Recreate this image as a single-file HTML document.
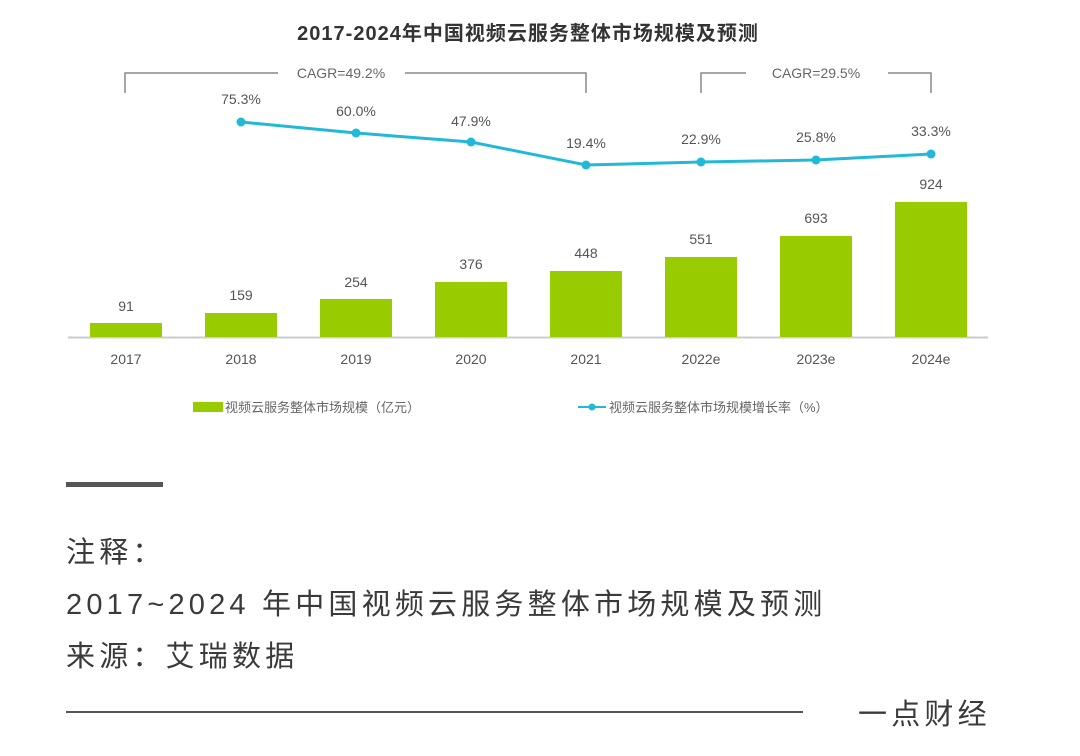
<!DOCTYPE html>
<html><head><meta charset="utf-8"><style>
html,body{margin:0;padding:0;background:#fff;}
body{width:1080px;height:756px;overflow:hidden;position:relative;font-family:"Liberation Sans","Noto Sans CJK SC",sans-serif;}
.t{position:absolute;color:#3a3a3a;font-size:29px;letter-spacing:4.2px;white-space:nowrap;}
</style></head><body>
<svg width="1080" height="460" style="position:absolute;left:0;top:0" font-family="Liberation Sans, Noto Sans CJK SC, sans-serif">
<text x="528" y="40" text-anchor="middle" font-size="20" font-weight="bold" fill="#333" letter-spacing="1">2017-2024年中国视频云服务整体市场规模及预测</text>
<g stroke="#888" stroke-width="1.5" fill="none">
<polyline points="125,93 125,73 278,73"/><polyline points="405,73 586,73 586,93"/>
<polyline points="701,93 701,73 746,73"/><polyline points="888,73 931,73 931,93"/>
</g>
<g font-size="14" fill="#666" text-anchor="middle">
<text x="341" y="78">CAGR=49.2%</text><text x="816" y="78">CAGR=29.5%</text>
</g>
<line x1="68" y1="337.5" x2="988" y2="337.5" stroke="#ccc" stroke-width="2"/>
<g fill="#99cc00">
<rect x="90" y="323" width="72" height="14"/>
<rect x="205" y="313" width="72" height="24"/>
<rect x="320" y="299" width="72" height="38"/>
<rect x="435" y="282" width="72" height="55"/>
<rect x="550" y="271" width="72" height="66"/>
<rect x="665" y="257" width="72" height="80"/>
<rect x="780" y="236" width="72" height="101"/>
<rect x="895" y="202" width="72" height="135"/>
</g>
<g font-size="14" fill="#555" text-anchor="middle">
<text x="126" y="311">91</text><text x="241" y="300">159</text><text x="356" y="287">254</text><text x="471" y="269">376</text>
<text x="586" y="258">448</text><text x="701" y="244">551</text><text x="816" y="223">693</text><text x="931" y="189">924</text>
<text x="126" y="364">2017</text><text x="241" y="364">2018</text><text x="356" y="364">2019</text><text x="471" y="364">2020</text>
<text x="586" y="364">2021</text><text x="701" y="364">2022e</text><text x="816" y="364">2023e</text><text x="931" y="364">2024e</text>
<text x="241" y="104">75.3%</text><text x="356" y="116">60.0%</text><text x="471" y="126">47.9%</text><text x="586" y="148">19.4%</text>
<text x="701" y="144">22.9%</text><text x="816" y="142">25.8%</text><text x="931" y="136">33.3%</text>
</g>
<polyline points="241,122 356,133 471,142 586,165 701,162 816,160 931,154" fill="none" stroke="#22b8d8" stroke-width="3"/>
<g fill="#22b8d8">
<circle cx="241" cy="122" r="4.5"/><circle cx="356" cy="133" r="4.5"/><circle cx="471" cy="142" r="4.5"/><circle cx="586" cy="165" r="4.5"/>
<circle cx="701" cy="162" r="4.5"/><circle cx="816" cy="160" r="4.5"/><circle cx="931" cy="154" r="4.5"/>
</g>
<rect x="193" y="402" width="30" height="10" fill="#99cc00"/>
<text x="225" y="412" font-size="13" fill="#666">视频云服务整体市场规模（亿元）</text>
<line x1="578" y1="407" x2="606" y2="407" stroke="#22b8d8" stroke-width="2"/>
<circle cx="592" cy="407" r="3.5" fill="#22b8d8"/>
<text x="609" y="412" font-size="13" fill="#666">视频云服务整体市场规模增长率（%）</text>
</svg>
<div style="position:absolute;left:66px;top:482px;width:97px;height:5px;background:#555"></div>
<div class="t" style="left:66px;top:529px">注释：</div>
<div class="t" style="left:66px;top:581px">2017~2024 年中国视频云服务整体市场规模及预测</div>
<div class="t" style="left:66px;top:633px">来源：艾瑞数据</div>
<div style="position:absolute;left:66px;top:711px;width:737px;height:2px;background:#555"></div>
<div class="t" style="left:858px;top:691px">一点财经</div>
</body></html>
